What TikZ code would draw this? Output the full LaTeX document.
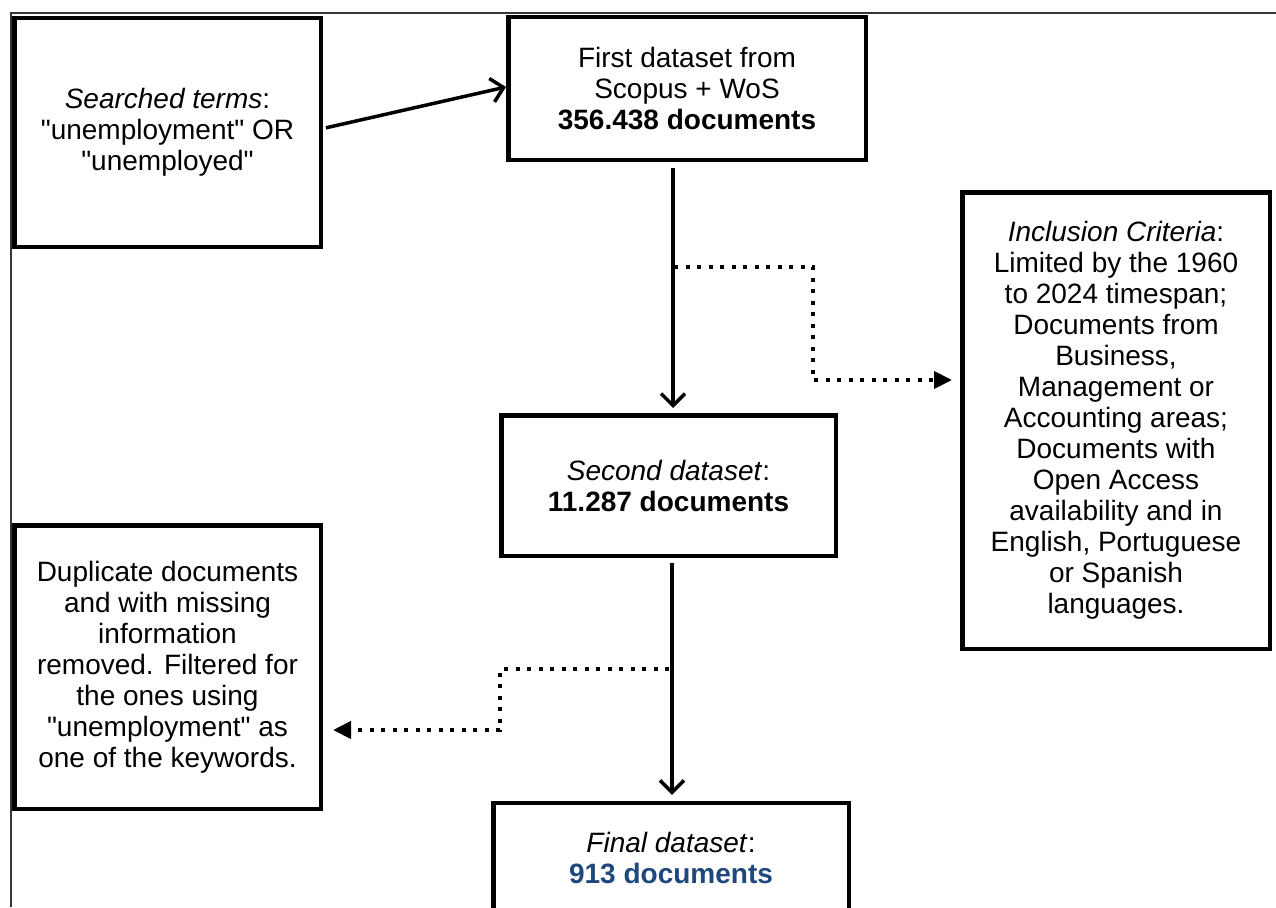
\documentclass[tikz,border=0pt]{standalone}
\usepackage{fontspec}
\setmainfont{Liberation Sans}[Ligatures=TeXOff]
\usetikzlibrary{arrows.meta}
\definecolor{finalblue}{RGB}{31,73,125}
\definecolor{framegray}{RGB}{55,55,55}
\begin{document}
\begin{tikzpicture}[x=1pt,y=-1pt,
  box/.style={draw, line width=4.5pt, inner sep=0pt, align=center, font=\fontsize{28}{31}\selectfont},
  solidarr/.style={line width=3.5pt, -{Straight Barb[length=12pt,width=24pt,line width=3.5pt]}},
  dotarr/.style={line width=4pt, line cap=butt, dash pattern=on 4pt off 7.5pt, -{Triangle[length=18pt,width=17pt]}}]
\useasboundingbox (0,0) rectangle (1276,907);
\clip (0,0) rectangle (1276,907);
\fill[white] (0,0) rectangle (1276,907);
\draw[framegray, line width=2pt] (11,907) -- (11,13) -- (1276,13);

\node[box, minimum width=306.5pt, minimum height=228.5pt] (terms) at (167.5,132.5)
  {\textit{Searched terms}:\\"unemployment" OR\\"unemployed"};
\node[box, minimum width=357.5pt, minimum height=142.5pt] (first) at (687,88.5)
  {First dataset from\\Scopus + WoS\\\textbf{356.438 documents}};
\node[box, minimum width=334.5pt, minimum height=140.5pt] (second) at (668.5,485.5)
  {\textit{Second dataset}:\\\textbf{11.287 documents}};
\node[box, minimum width=307.5pt, minimum height=456.5pt] (incl) at (1116,420.5)
  {\textit{Inclusion Criteria}:\\Limited by the 1960\\to 2024 timespan;\\Documents from\\Business,\\Management or\\Accounting areas;\\Documents with\\Open Access\\availability and in\\English, Portuguese\\or Spanish\\languages.};
\node[box, minimum width=306.5pt, minimum height=283.5pt] (dup) at (167.5,667)
  {Duplicate documents\\and with missing\\information\\removed. Filtered for\\the ones using\\"unemployment" as\\one of the keywords.};
\node[box, minimum width=355.5pt, minimum height=110pt] (final) at (671,858)
  {\textit{Final dataset}:\\\textcolor{finalblue}{\textbf{913 documents}}};

\draw[solidarr, shorten <=3pt] ([yshift=4pt]terms.east) -- ([yshift=1.5pt]first.west);
\draw[solidarr, shorten <=6pt, shorten >=5pt] ([xshift=-14pt]first.south) -- ([xshift=4.5pt]second.north);
\draw[solidarr, shorten <=5pt, shorten >=6pt] ([xshift=3.5pt]second.south) -- ([xshift=1pt]final.north);

\coordinate (d1) at (674,267);
\coordinate (d1a) at (813,267);
\coordinate (d1b) at (813,380);
\draw[dotarr, shorten >=8pt] (d1) -- (d1a) -- (d1b) -- (incl.west |- d1b);

\coordinate (d2) at (669,669);
\coordinate (d2a) at (500,669);
\coordinate (d2b) at (500,730);
\draw[dotarr, shorten >=10pt] (d2) -- (d2a) -- (d2b) -- (dup.east |- d2b);
\end{tikzpicture}
\end{document}
